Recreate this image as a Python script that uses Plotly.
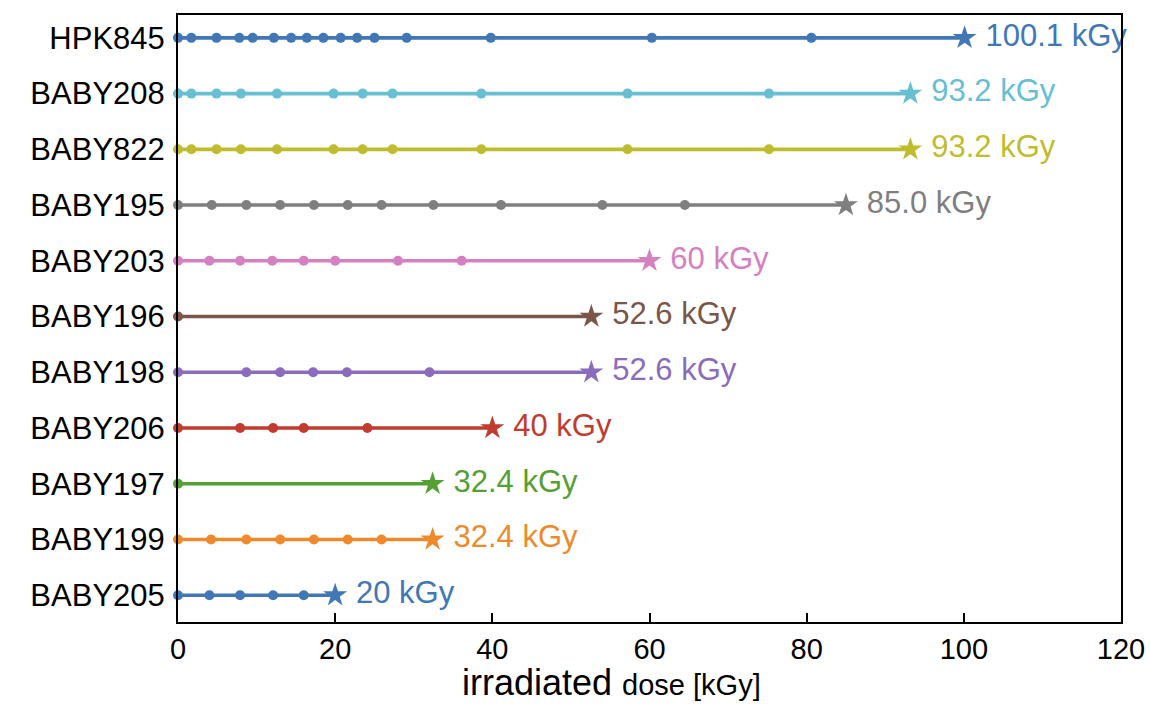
import plotly.graph_objects as go

# Modules, bottom row first
modules = ["BABY205", "BABY199", "BABY197", "BABY206", "BABY198", "BABY196",
           "BABY203", "BABY195", "BABY822", "BABY208", "HPK845"]

# Intermediate measurement doses [kGy] for each module
steps = {
    "BABY205": [0, 4.0, 7.9, 12.1, 16.0],
    "BABY199": [0, 4.2, 8.7, 13.0, 17.3, 21.6, 25.9],
    "BABY197": [0],
    "BABY206": [0, 7.9, 12.1, 16.0, 24.1],
    "BABY198": [0, 8.7, 13.0, 17.2, 21.5, 32.0],
    "BABY196": [0],
    "BABY203": [0, 4.0, 7.9, 12.0, 16.0, 20.0, 28.0, 36.1],
    "BABY195": [0, 4.3, 8.7, 13.0, 17.3, 21.6, 25.9, 32.5, 41.1, 54.0, 64.5],
    "BABY822": [0, 1.7, 4.9, 8.0, 12.6, 19.8, 23.5, 27.3, 38.6, 57.2, 75.2],
    "BABY208": [0, 1.7, 4.9, 8.0, 12.6, 19.8, 23.5, 27.3, 38.6, 57.2, 75.2],
    "HPK845": [0, 1.7, 4.9, 7.8, 9.5, 12.2, 14.4, 16.4, 18.5, 20.7, 22.8,
               25.0, 29.1, 39.8, 60.3, 80.6],
}

# Final dose reached by each module [kGy] and its label
final_dose = [20, 32.4, 32.4, 40, 52.6, 52.6, 60, 85.0, 93.2, 93.2, 100.1]
final_label = ["20 kGy", "32.4 kGy", "32.4 kGy", "40 kGy", "52.6 kGy", "52.6 kGy",
               "60 kGy", "85.0 kGy", "93.2 kGy", "93.2 kGy", "100.1 kGy"]

colors = ["#4277b6", "#ee8a2c", "#55a032", "#c13b2e", "#8b6bbd", "#7b5547",
          "#d580c0", "#7f7f7f", "#bfbd2e", "#66bfd2", "#4277b6"]

FONT = "Liberation Sans, Arial, Helvetica, sans-serif"

fig = go.Figure()
for i, name in enumerate(modules):
    xs = steps[name]
    c = colors[i]
    # line from zero to the final dose
    fig.add_trace(go.Scatter(
        x=[0, final_dose[i]], y=[i, i], mode="lines",
        line=dict(color=c, width=3.6), showlegend=False, hoverinfo="skip"))
    # intermediate dose points
    fig.add_trace(go.Scatter(
        x=xs, y=[i] * len(xs), mode="markers",
        marker=dict(color=c, size=10, line=dict(width=0)),
        showlegend=False, cliponaxis=False))
    # final dose star with label
    fig.add_trace(go.Scatter(
        x=[final_dose[i]], y=[i], mode="markers+text",
        marker=dict(color=c, symbol="star", size=18, line=dict(width=0)),
        text=[" " + final_label[i]], textposition="middle right",
        textfont=dict(color=c, size=31, family=FONT),
        showlegend=False, cliponaxis=False))

# x-axis title drawn as an annotation so it can sit slightly left of centre
fig.add_annotation(
    text="irradiated <span style='font-size:29px'>dose [kGy]</span>",
    xref="paper", yref="paper", x=0.46, y=-0.135,
    xanchor="center", yanchor="bottom", showarrow=False, borderpad=0,
    font=dict(size=36, family=FONT, color="black"))

fig.update_layout(
    width=1150, height=705,
    margin=dict(l=178, r=29, t=15, b=83),
    plot_bgcolor="white", paper_bgcolor="white",
    font=dict(family=FONT, color="black", size=30),
    xaxis=dict(
        range=[0, 120], tickvals=[0, 20, 40, 60, 80, 100, 120],
        ticks="inside", ticklen=9, tickwidth=1.5, tickcolor="black",
        showline=True, linecolor="black", linewidth=2, mirror=True,
        showgrid=False, zeroline=False, tickfont=dict(size=29),
        automargin=False,
    ),
    yaxis=dict(
        range=[-0.48, 10.41], tickvals=list(range(len(modules))), ticktext=modules,
        ticks="", showline=True, linecolor="black", linewidth=2, mirror=True,
        showgrid=False, zeroline=False, tickfont=dict(size=31),
        ticklabelstandoff=5, automargin=False,
    ),
)

fig.write_html("out.html")
